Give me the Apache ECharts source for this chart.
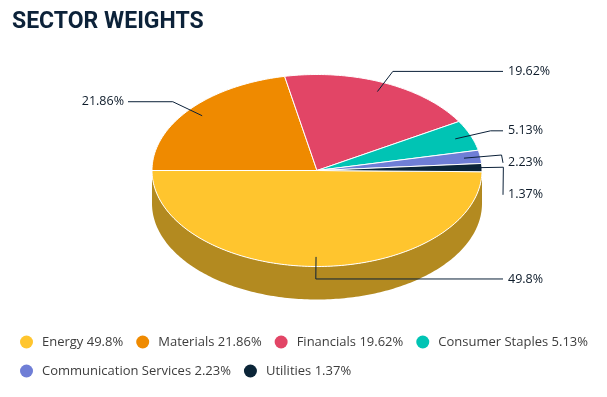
<!DOCTYPE html>
<html>
<head>
<meta charset="utf-8">
<script src="https://cdn.jsdelivr.net/npm/echarts@6/dist/echarts.min.js"></script>
<style>
  html, body { margin: 0; padding: 0; background: #fff; }
  #chart { width: 607px; height: 397px; }
</style>
</head>
<body>
<div id="chart"></div>
<script>
// data
var categories = ['Energy', 'Materials', 'Financials', 'Consumer Staples', 'Communication Services', 'Utilities'];
var weights = [49.8, 21.86, 19.62, 5.13, 2.23, 1.37];
var labelTexts = ['49.8%', '21.86%', '19.62%', '5.13%', '2.23%', '1.37%'];

var colors = ['#FFC52E', '#EF8A00', '#E24566', '#00C4B4', '#6F7ED6', '#0B2538'];

// pie layout (fake 3d: ellipse + side wall)
var cx = 317, cy = 170.5, rx = 165, ry = 96, depth = 33;
var lineColor = '#0b2038';

function darken(hex, k) {
  var n = parseInt(hex.slice(1), 16);
  var r = Math.round(((n >> 16) & 255) * k), g = Math.round(((n >> 8) & 255) * k), b = Math.round((n & 255) * k);
  return 'rgb(' + r + ',' + g + ',' + b + ')';
}
function pt(deg, f, dy) {
  var a = deg * Math.PI / 180;
  return [cx + rx * f * Math.cos(a), cy + ry * f * Math.sin(a) + (dy || 0)];
}
function arc(a0, a1, dy) {
  var pts = [], n = Math.max(2, Math.ceil(Math.abs(a1 - a0)));
  for (var i = 0; i <= n; i++) pts.push(pt(a0 + (a1 - a0) * i / n, 1, dy));
  return pts;
}

// slice angles (clockwise on screen, energy ends at the left edge)
var total = weights.reduce(function (s, v) { return s + v; }, 0);
var slices = [];
var start = 180 - 360 * weights[0] / total;
weights.forEach(function (v, i) {
  var sweep = 360 * v / total;
  slices.push({ a0: start, a1: start + sweep, mid: start + sweep / 2 });
  start += sweep;
});

// label positions, pushed apart when they crowd
slices.forEach(function (s) {
  s.anchor = pt(s.mid, 0.9);
  s.elbow = pt(s.mid, 1.13);
  s.right = Math.cos(s.mid * Math.PI / 180) > -0.05;
  s.ly = s.elbow[1];
});
[true, false].forEach(function (side) {
  var list = slices.filter(function (s) { return s.right === side; })
    .sort(function (a, b) { return a.ly - b.ly; });
  for (var i = 1; i < list.length; i++) {
    if (list[i].ly < list[i - 1].ly + 32) list[i].ly = list[i - 1].ly + 32;
  }
});

function makeRender(idx) {
  return function (params, api) {
    var s = slices[idx];
    var children = [];
    // side wall (front half only)
    var w0 = Math.max(s.a0, 0), w1 = Math.min(s.a1, 180);
    var wallParts = [[w0, w1]];
    if (s.a1 > 360) wallParts.push([0, s.a1 - 360]);
    wallParts.forEach(function (p) {
      if (p[1] <= p[0]) return;
      var top = arc(p[0], p[1], 0), bot = arc(p[1], p[0], depth);
      children.push({
        type: 'polygon', shape: { points: top.concat(bot) },
        style: { fill: darken(colors[idx], 0.7), stroke: null }
      });
    });
    // top face
    children.push({
      type: 'polygon', shape: { points: [[cx, cy]].concat(arc(s.a0, s.a1, 0)) },
      style: { fill: colors[idx], stroke: '#fff', lineWidth: 1, lineJoin: 'round' }
    });
    // label line + text
    var endX = s.right ? cx + rx + 21 : cx - rx - 24;
    children.push({
      type: 'polyline',
      shape: { points: [s.anchor, s.elbow, [endX, s.ly]] },
      style: { stroke: lineColor, lineWidth: 1, fill: null }
    });
    children.push({
      type: 'text',
      style: {
        text: labelTexts[idx], x: s.right ? endX + 5 : endX - 4, y: s.ly,
        align: s.right ? 'left' : 'right', verticalAlign: 'middle',
        font: '12.5px "Open Sans"', fill: '#0d1b2a'
      }
    });
    return { type: 'group', children: children };
  };
}

var chart = echarts.init(document.getElementById('chart'));
var option = {
  animation: false,
  color: colors,
  title: {
    text: 'SECTOR WEIGHTS',
    left: 7, top: 6,
    textStyle: { fontFamily: 'Roboto', fontWeight: 'bold', fontSize: 23, color: '#0c2239' }
  },
  legend: {
    left: 20, top: 334, width: 580, padding: 0,
    icon: 'circle', itemWidth: 13, itemHeight: 13, itemGap: 13,
    data: categories,
    formatter: function (name) { return name + ' ' + weights[categories.indexOf(name)] + '%'; },
    textStyle: { fontFamily: 'Open Sans', fontSize: 13, color: '#3d3d3d', lineHeight: 16, padding: [0, 0, 0, 4] }
  },
  series: categories.map(function (name, i) {
    return {
      type: 'custom', name: name, coordinateSystem: 'none',
      itemStyle: { color: colors[i] },
      data: [[weights[i]]],
      renderItem: makeRender(i)
    };
  })
};
chart.setOption(option);
</script>
</body>
</html>
